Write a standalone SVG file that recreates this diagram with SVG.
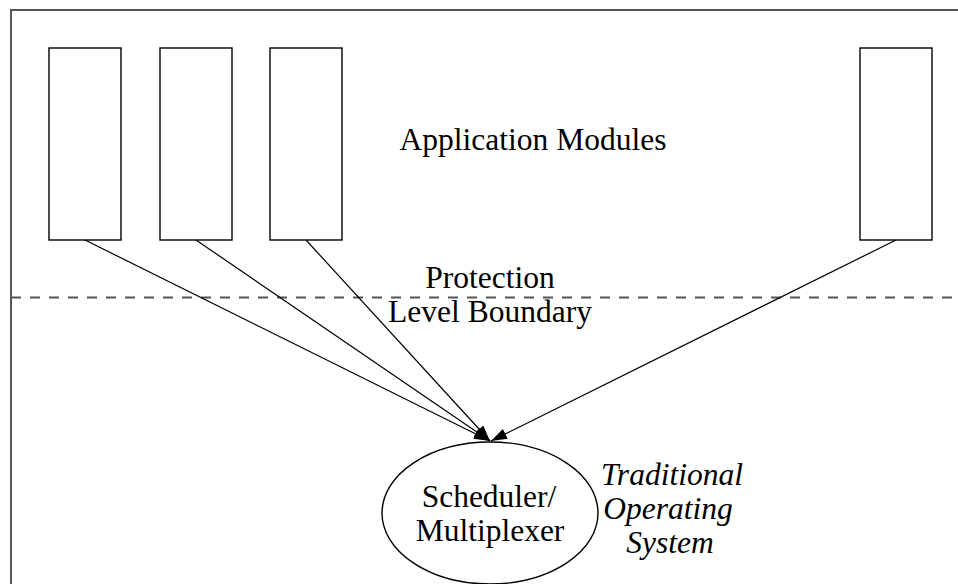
<svg xmlns="http://www.w3.org/2000/svg" width="958" height="584" viewBox="0 0 958 584">
  <style>
    .frame { fill: none; stroke: #555; stroke-width: 2; }
    .boundary { fill: none; stroke: #555; stroke-width: 2; stroke-dasharray: 10 9; }
    .module { fill: #fff; stroke: #000; stroke-width: 1.4; }
    .edge { fill: none; stroke: #000; stroke-width: 1.2; marker-end: url(#arrow); }
    .sched { fill: #fff; stroke: #000; stroke-width: 1.4; }
    .label { font-family: "Liberation Serif", "Times New Roman", serif; font-size: 31.5px; fill: #000; text-anchor: middle; }
    .italic { font-style: italic; }
  </style>
  <defs>
    <marker id="arrow" markerUnits="userSpaceOnUse" markerWidth="18" markerHeight="12" refX="16" refY="6" orient="auto">
      <path d="M0,0.5 L16,6 L0,11.5 Z" fill="#000"/>
    </marker>
  </defs>

  <rect fill="#fff" x="0" y="0" width="958" height="584"/>

  <!-- outer frame, running off the right and bottom edges -->
  <path class="frame" d="M11,600 L11,10 L970,10"/>

  <!-- protection level boundary -->
  <line class="boundary" x1="11" y1="297.5" x2="958" y2="297.5"/>

  <g id="module-1"><rect class="module" x="49" y="48" width="72" height="192"/></g>
  <g id="module-2"><rect class="module" x="160" y="48" width="72" height="192"/></g>
  <g id="module-3"><rect class="module" x="270" y="48" width="72" height="192"/></g>
  <g id="module-4"><rect class="module" x="860" y="48" width="72" height="192"/></g>

  <g id="connectors">
    <line class="edge" x1="85" y1="240" x2="490" y2="441"/>
    <line class="edge" x1="196" y1="240" x2="490" y2="441"/>
    <line class="edge" x1="306" y1="240" x2="490" y2="441"/>
    <line class="edge" x1="896" y1="240" x2="491" y2="441"/>
  </g>

  <g id="scheduler">
    <ellipse class="sched" cx="490" cy="513" rx="108" ry="71"/>
    <text class="label" x="489" y="507">Scheduler/</text>
    <text class="label" x="490" y="541">Multiplexer</text>
  </g>

  <g id="labels">
    <text class="label" x="533" y="150">Application Modules</text>
    <text class="label" x="490" y="288">Protection</text>
    <text class="label" x="490" y="322">Level Boundary</text>
    <text class="label italic" x="672" y="485">Traditional</text>
    <text class="label italic" x="668" y="519">Operating</text>
    <text class="label italic" x="670" y="553">System</text>
  </g>
</svg>
